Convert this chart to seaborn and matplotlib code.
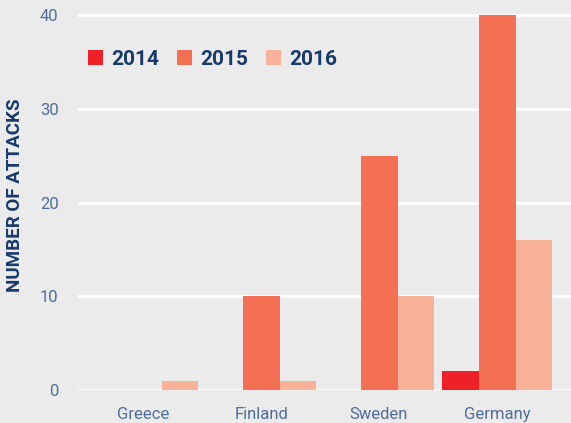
import matplotlib
matplotlib.use("Agg")
import matplotlib.pyplot as plt
import seaborn as sns
import pandas as pd

# Attack counts per country and year
countries = ["Greece", "Finland", "Sweden", "Germany"]
years = ["2014", "2015", "2016"]
attacks_2014 = [0, 0, 0, 2]
attacks_2015 = [0, 10, 25, 40]
attacks_2016 = [1, 1, 10, 16]
y_ticks = [0, 10, 20, 30, 40]

df = pd.DataFrame({
    "country": countries * 3,
    "year": [y for y in years for _ in countries],
    "attacks": attacks_2014 + attacks_2015 + attacks_2016,
})

BG = "#ebebeb"
NAVY = "#173a6b"
TICK = "#4f6e9a"
palette = {"2014": "#ed2127", "2015": "#f37055", "2016": "#f9b29a"}

sns.set_theme(style="white")
plt.rcParams["font.family"] = ["Roboto", "DejaVu Sans"]

fig = plt.figure(figsize=(5.71, 4.23), dpi=100, facecolor=BG)
ax = fig.add_axes([78 / 571, 33 / 423, 1 - 78 / 571, 390 / 423])
ax.set_facecolor(BG)

sns.barplot(data=df, x="country", y="attacks", hue="year", order=countries,
            hue_order=years, palette=palette, width=0.94, gap=0,
            saturation=1, linewidth=0, errorbar=None, ax=ax, zorder=3)

ax.set_xlim(-0.551, 3.627)
ax.set_ylim(0, 41.6)
ax.set_yticks(y_ticks)
ax.yaxis.grid(True, color="white", linewidth=2, zorder=0)
ax.xaxis.grid(False)
ax.set_axisbelow(True)
for s in ax.spines.values():
    s.set_visible(False)

ax.tick_params(axis="both", length=0, labelsize=12, labelcolor=TICK)
ax.tick_params(axis="x", pad=12)
ax.tick_params(axis="y", pad=14)
ax.set_xlabel("")
ax.set_ylabel("NUMBER OF ATTACKS", fontsize=13.5, fontweight="bold",
              color=NAVY)
ax.yaxis.set_label_coords(-(78 - 24) / 493, 0.5)

handles, labels = ax.get_legend_handles_labels()
ax.legend(handles, labels, loc="upper left", ncol=3,
          bbox_to_anchor=(88 / 571, 1 - 50 / 423), bbox_transform=fig.transFigure,
          frameon=False, borderpad=0, borderaxespad=0,
          handlelength=0.72, handleheight=0.72, handletextpad=0.4,
          columnspacing=0.85,
          prop={"size": 15, "weight": "bold"}, labelcolor=NAVY)

fig.savefig("out.png", dpi=100, facecolor=BG)
